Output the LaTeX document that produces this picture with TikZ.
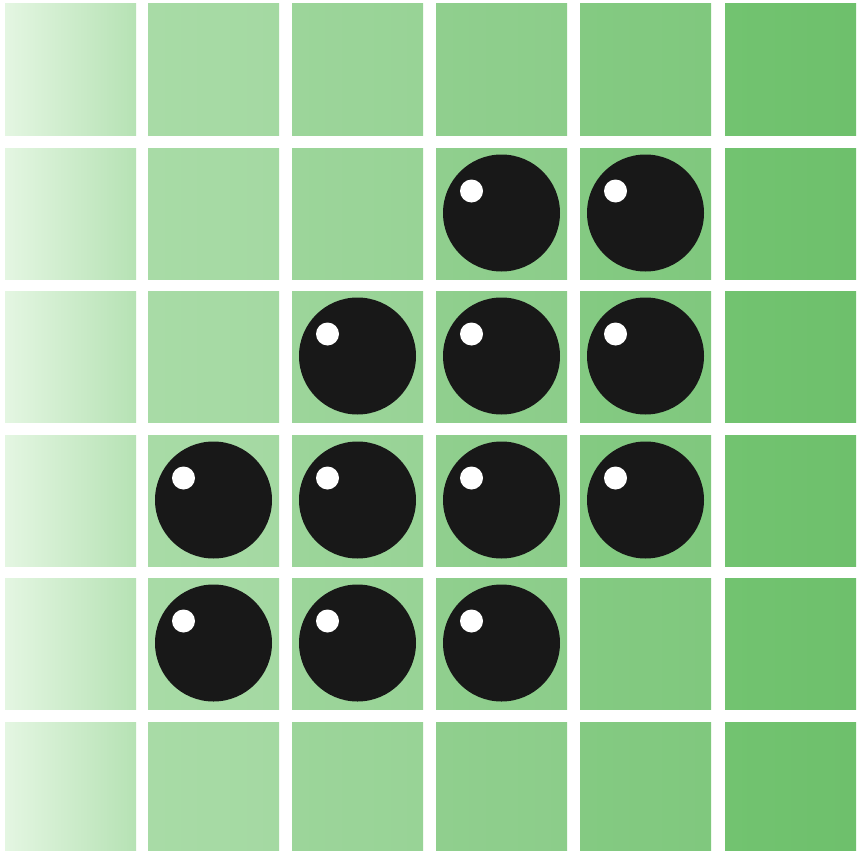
\documentclass[tikz,border=0pt]{standalone}
\begin{document}
\begin{tikzpicture}[x=1pt,y=-1pt,
  cell/.style={minimum size=131pt,inner sep=0pt,outer sep=0pt,anchor=north west},
  stone/.style={circle,fill=stoneblack,minimum size=117pt,inner sep=0pt},
  shine/.style={circle,fill=white,minimum size=23pt,inner sep=0pt}]
\definecolor{stoneblack}{RGB}{24,24,24}
\definecolor{cA0}{RGB}{228,246,226}\definecolor{cA1}{RGB}{182,226,180}
\definecolor{cB0}{RGB}{168,219,166}\definecolor{cB1}{RGB}{164,217,162}
\definecolor{cC0}{RGB}{156,213,154}\definecolor{cC1}{RGB}{152,211,150}
\definecolor{cD0}{RGB}{144,207,142}\definecolor{cD1}{RGB}{140,205,138}
\definecolor{cE0}{RGB}{132,202,130}\definecolor{cE1}{RGB}{128,200,126}
\definecolor{cF0}{RGB}{114,195,112}\definecolor{cF1}{RGB}{110,192,108}
\useasboundingbox (0,0) rectangle (857,851);
\clip (0,0) rectangle (857,851);
\fill[white] (0,0) rectangle (857,851);
\foreach \c/\x/\l/\r in {1/5/cA0/cA1,2/148/cB0/cB1,3/292/cC0/cC1,4/436/cD0/cD1,5/580/cE0/cE1,6/725/cF0/cF1}{
  \foreach \rw/\y in {1/4,2/148,3/291,4/435,5/578,6/722}{
    \node[cell,left color=\l,right color=\r] (cell\c\rw) at (\x,\y) {};
  }
}
\foreach \c/\rw in {4/2,5/2,3/3,4/3,5/3,2/4,3/4,4/4,5/4,2/5,3/5,4/5}{
  \node[stone] (stone\c\rw) at ([yshift=0.5pt]cell\c\rw.center) {};
  \node[shine] (shine\c\rw) at ([xshift=-30pt,yshift=22pt]stone\c\rw.center) {};
}
\end{tikzpicture}
\end{document}
